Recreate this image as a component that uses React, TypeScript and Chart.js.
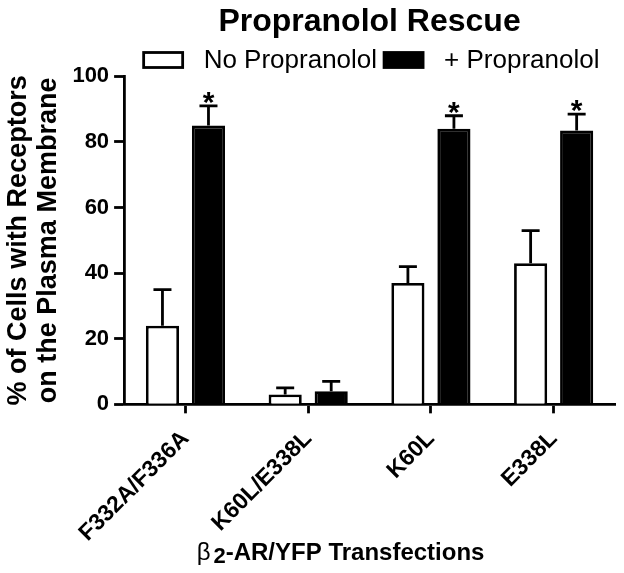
import React, { useEffect, useRef } from "react";
import { Chart, registerables } from "chart.js";

Chart.register(...registerables);

const categories = ["F332A/F336A", "K60L/E338L", "K60L", "E338L"];
const seriesNames = ["No Propranolol", "+ Propranolol"];
const noPropranolol = [24, 3, 37, 43];
const noPropranololErr = [11, 2, 5, 10];
const plusPropranolol = [85, 4, 84, 83.5];
const plusPropranololErr = [6, 3, 4, 5];
const significant = [true, false, true, true];
const yTicks = [0, 20, 40, 60, 80, 100];

const FONT = "Arial, 'Liberation Sans', sans-serif";

const errorBarPlugin = {
  id: "errorBars",
  afterDatasetsDraw(chart: any) {
    const ctx = chart.ctx;
    const y = chart.scales.y;
    const errs = [noPropranololErr, plusPropranololErr];
    ctx.save();
    ctx.strokeStyle = "#000";
    ctx.lineWidth = 2.8;
    chart.data.datasets.forEach((ds: any, di: number) => {
      const meta = chart.getDatasetMeta(di);
      meta.data.forEach((bar: any, i: number) => {
        const v = ds.data[i];
        const top = y.getPixelForValue(v + errs[di][i]);
        const base = y.getPixelForValue(v);
        ctx.beginPath();
        ctx.moveTo(bar.x, base);
        ctx.lineTo(bar.x, top);
        ctx.moveTo(bar.x - 9, top);
        ctx.lineTo(bar.x + 9, top);
        ctx.stroke();
        if (di === 1 && significant[i]) {
          ctx.fillStyle = "#000";
          ctx.font = `bold 30px ${FONT}`;
          ctx.textAlign = "center";
          ctx.textBaseline = "alphabetic";
          ctx.fillText("*", bar.x, top + 6);
        }
      });
    });
    ctx.restore();
  },
  afterDraw(chart: any) {
    const ctx = chart.ctx;
    const area = chart.chartArea;
    ctx.save();
    ctx.fillStyle = "#000";
    ctx.strokeStyle = "#000";

    // legend
    const legendFont = `26px ${FONT}`;
    ctx.font = legendFont;
    const boxW = 39;
    const boxH = 15;
    const gapBoxText = 21;
    const gapItems = 7;
    const items = chart.data.datasets.map((ds: any) => ({
      text: ds.label,
      fill: ds.backgroundColor,
      w: ctx.measureText(ds.label).width,
    }));
    const totalW =
      items.reduce((s: number, it: any) => s + boxW + gapBoxText + it.w, 0) +
      gapItems * (items.length - 1);
    let lx = (area.left + area.right) / 2 + 2 - totalW / 2;
    const ly = 60;
    ctx.textBaseline = "middle";
    ctx.textAlign = "left";
    items.forEach((it: any) => {
      ctx.fillStyle = it.fill;
      ctx.fillRect(lx, ly - boxH / 2, boxW, boxH);
      ctx.lineWidth = 2.8;
      ctx.strokeRect(lx, ly - boxH / 2, boxW, boxH);
      lx += boxW + gapBoxText;
      ctx.fillStyle = "#000";
      ctx.fillText(it.text, lx, ly + 1);
      lx += it.w + gapItems;
    });

    // x-axis title with subscript
    ctx.textBaseline = "alphabetic";
    const big = `bold 24px ${FONT}`;
    const beta = `24px ${FONT}`;
    const small = `bold 22px ${FONT}`;
    const p1 = "\u03B2";
    const p2 = "2";
    const p3 = "-AR/YFP Transfections";
    ctx.font = beta;
    const w1 = ctx.measureText(p1).width + 3;
    ctx.font = big;
    const w3 = ctx.measureText(p3).width;
    ctx.font = small;
    const w2 = ctx.measureText(p2).width;
    const total = w1 + w2 + w3;
    const cx = (area.left + area.right) / 2 - 29;
    let x = cx - total / 2;
    const baseY = 560;
    ctx.font = beta;
    ctx.fillText(p1, x, baseY);
    x += w1;
    ctx.font = small;
    ctx.fillText(p2, x, baseY + 3);
    x += w2;
    ctx.font = big;
    ctx.fillText(p3, x, baseY);
    ctx.restore();
  },
};

export default function App() {
  const ref = useRef<HTMLCanvasElement>(null);
  useEffect(() => {
    document.body.style.margin = "0";
    const chart = new Chart(ref.current!, {
      type: "bar",
      data: {
        labels: categories,
        datasets: [
          {
            label: seriesNames[0],
            data: noPropranolol,
            backgroundColor: "#fff",
            borderColor: "#000",
            borderWidth: 2.8,
            categoryPercentage: 0.75,
            barPercentage: 0.72,
          },
          {
            label: seriesNames[1],
            data: plusPropranolol,
            backgroundColor: "#000",
            borderColor: "#000",
            borderWidth: 2.8,
            categoryPercentage: 0.75,
            barPercentage: 0.72,
          },
        ],
      },
      options: {
        responsive: false,
        animation: false,
        layout: { padding: { left: 4, right: 9, bottom: 14, top: 0 } },
        plugins: {
          tooltip: { enabled: false },
          legend: { display: false },
          title: {
            display: true,
            text: "Propranolol Rescue",
            color: "#000",
            fullSize: false,
            font: { family: FONT, size: 32, weight: "bold", lineHeight: 1.2 },
            padding: { top: 3, bottom: 35 },
          },
        },
        scales: {
          x: {
            grid: {
              offset: false,
              drawOnChartArea: false,
              drawTicks: true,
              tickLength: 9,
              tickWidth: 2.8,
              tickColor: "#000",
            },
            border: { color: "#000", width: 2.8 },
            ticks: {
              color: "#000",
              font: { family: FONT, size: 23, weight: "bold" },
              minRotation: 45,
              maxRotation: 45,
              padding: 12,
            },
          },
          y: {
            min: 0,
            max: 100,
            afterBuildTicks: (s: any) => {
              s.ticks = yTicks.map((v) => ({ value: v }));
            },
            grid: {
              drawOnChartArea: false,
              drawTicks: true,
              tickLength: 10,
              tickWidth: 2.8,
              tickColor: "#000",
            },
            border: { color: "#000", width: 2.8 },
            ticks: {
              color: "#000",
              font: { family: FONT, size: 22, weight: "bold" },
              padding: 5,
            },
            title: {
              display: true,
              text: ["% of Cells with Receptors", "on the Plasma Membrane"],
              color: "#000",
              font: { family: FONT, size: 27, weight: "bold", lineHeight: 1.1 },
              padding: { top: 0, bottom: 4 },
            },
          },
        },
      },
      plugins: [errorBarPlugin],
    });
    return () => chart.destroy();
  }, []);
  return <canvas ref={ref} width={624} height={573} style={{ display: "block" }} />;
}
